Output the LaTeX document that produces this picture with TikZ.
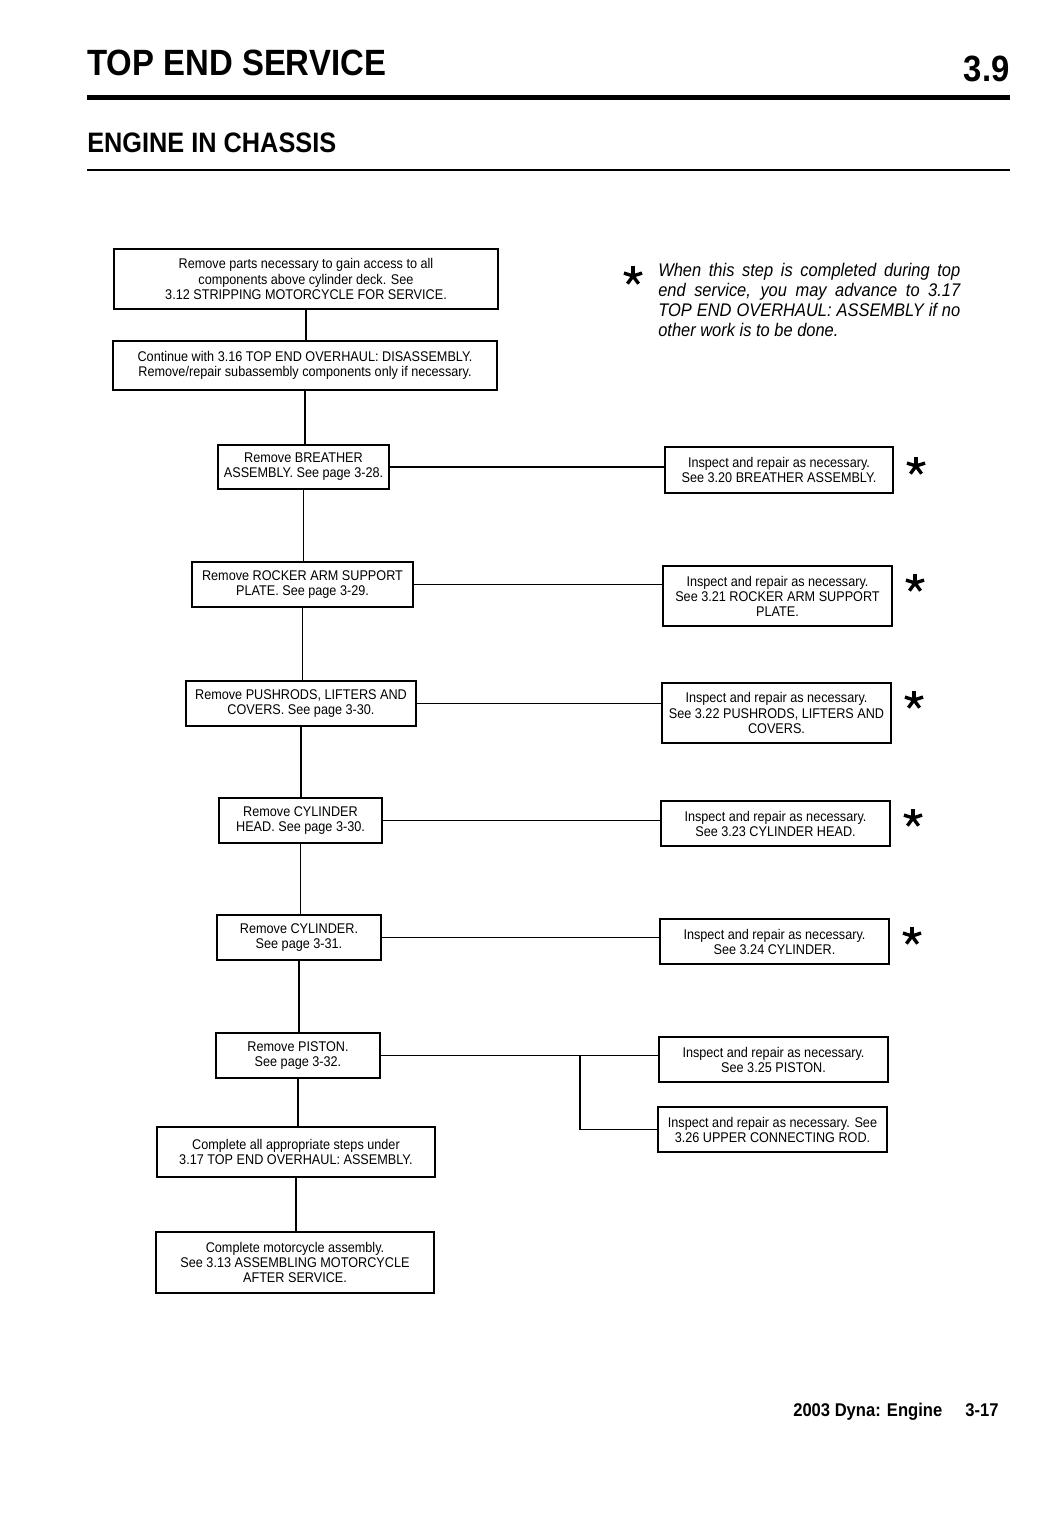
\documentclass[tikz,border=0pt]{standalone}
\usepackage{fontspec}
\setmainfont{Liberation Sans}[FakeStretch=0.9]

% styles for the flow chart
\tikzset{
  stepbox/.style={draw, line width=1.4pt, inner sep=0pt, align=center,
    font=\fontsize{10}{10.7}\selectfont},
  sz/.style 2 args={minimum width=#1*0.025cm, minimum height=#2*0.025cm},
  link/.style={line width=1.2pt},
}
% five armed star for the shortcut mark
\newcommand\starmark[1]{%
  \foreach \a in {-90,-18,-162,126,54}
    \draw[line width=3.4*0.025cm] (#1) -- ++(\a:9.5);}

\begin{document}
\begin{tikzpicture}[x=0.025cm,y=-0.025cm]
\useasboundingbox[fill=white] (0,0) rectangle (1059,1516);

% page head
\node (head) [anchor=base west, inner sep=0pt, font=\fontsize{26}{28}\selectfont\bfseries] at (87,76) {TOP END SERVICE};
\node (secno) [anchor=base east, inner sep=0pt, font=\fontsize{26}{28}\selectfont\bfseries] at (1010,82) {3.9};
\draw[line width=5*0.025cm] (87,98) -- (1010,98);
\node (sub) [anchor=base west, inner sep=0pt, font=\fontsize{20}{22}\selectfont\bfseries] at (87,153) {ENGINE IN CHASSIS};
\draw[line width=1.5*0.025cm] (87,170) -- (1010,170);

% main column
\node (strip) [stepbox, sz={384}{60}] at (306,279) {Remove parts necessary to gain access to all\\components above cylinder deck. See\\3.12 STRIPPING MOTORCYCLE FOR SERVICE.};
\node (disasm) [stepbox, sz={384}{49}] at (305,365.5) {Continue with 3.16 TOP END OVERHAUL: DISASSEMBLY.\\Remove/repair subassembly components only if necessary.};
\node (rmBreather) [stepbox, sz={171}{44}] at (303.5,467) {Remove BREATHER\\ASSEMBLY. See page 3-28.};
\node (rmRocker) [stepbox, sz={221}{45}] at (302.5,584.5) {Remove ROCKER ARM SUPPORT\\PLATE. See page 3-29.};
\node (rmPush) [stepbox, sz={230}{45}] at (301,703.5) {Remove PUSHRODS, LIFTERS AND\\COVERS. See page 3-30.};
\node (rmHead) [stepbox, sz={163}{45}] at (300.5,820.5) {Remove CYLINDER\\HEAD. See page 3-30.};
\node (rmCyl) [stepbox, sz={164}{45}] at (299,937.5) {Remove CYLINDER.\\See page 3-31.};
\node (rmPiston) [stepbox, sz={164}{45}] at (298,1055.5) {Remove PISTON.\\See page 3-32.};
\node (asm) [stepbox, sz={278}{50}] at (296,1152) {Complete all appropriate steps under\\3.17 TOP END OVERHAUL: ASSEMBLY.};
\node (finish) [stepbox, sz={278}{61}] at (295,1262.5) {Complete motorcycle assembly.\\See 3.13 ASSEMBLING MOTORCYCLE\\AFTER SERVICE.};

% inspect column
\node (inBreather) [stepbox, sz={228}{46}] at (779,470) {Inspect and repair as necessary.\\See 3.20 BREATHER ASSEMBLY.};
\node (inRocker) [stepbox, sz={229}{60}] at (777.5,596) {Inspect and repair as necessary.\\See 3.21 ROCKER ARM SUPPORT\\PLATE.};
\node (inPush) [stepbox, sz={229}{60}] at (776.5,713) {Inspect and repair as necessary.\\See 3.22 PUSHRODS, LIFTERS AND\\COVERS.};
\node (inHead) [stepbox, sz={229}{45}] at (775.5,823.5) {Inspect and repair as necessary.\\See 3.23 CYLINDER HEAD.};
\node (inCyl) [stepbox, sz={229}{45}] at (774.5,941.5) {Inspect and repair as necessary.\\See 3.24 CYLINDER.};
\node (inPiston) [stepbox, sz={229}{45}] at (773.5,1059.5) {Inspect and repair as necessary.\\See 3.25 PISTON.};
\node (inRod) [stepbox, sz={229}{45}] at (772.5,1129.5) {Inspect and repair as necessary. See\\3.26 UPPER CONNECTING ROD.};

% trunk
\foreach \a/\b in {strip/disasm, disasm/rmBreather, rmBreather/rmRocker, rmRocker/rmPush,
    rmPush/rmHead, rmHead/rmCyl, rmCyl/rmPiston, rmPiston/asm, asm/finish}
  \draw[link] (\a.south) -- (\a.south |- \b.north);

% side branches
\foreach \a/\b in {rmBreather/inBreather, rmRocker/inRocker, rmPush/inPush,
    rmHead/inHead, rmCyl/inCyl, rmPiston/inPiston}
  \draw[link] (\a.east) -- (\a.east -| \b.west);
\coordinate (fork) at (580,1055.5);
\draw[link] (fork) |- (inRod.west);

% shortcut marks
\coordinate (st0) at (633,276);
\coordinate (st1) at (916,466);
\coordinate (st2) at (915,583);
\coordinate (st3) at (914,700);
\coordinate (st4) at (913,818);
\coordinate (st5) at (912,936);
\foreach \s in {st0,st1,st2,st3,st4,st5}
  \starmark{\s};

\node (note) [anchor=north west, inner sep=0pt, text width=302*0.025cm, align=justify,
  font=\fontsize{13}{14.2}\selectfont\itshape] at (658,263)
  {When this step is completed during top\linebreak end service, you may advance to 3.17\linebreak TOP END OVERHAUL: ASSEMBLY if no\linebreak other work is to be done.};

% page foot
\node (foot) [anchor=base west, inner sep=0pt, font=\fontsize{13.1}{14}\selectfont\bfseries] at (793,1416) {2003 Dyna: Engine};
\node (pageno) [anchor=base west, inner sep=0pt, font=\fontsize{13.1}{14}\selectfont\bfseries] at (965,1416) {3-17};
\end{tikzpicture}
\end{document}
